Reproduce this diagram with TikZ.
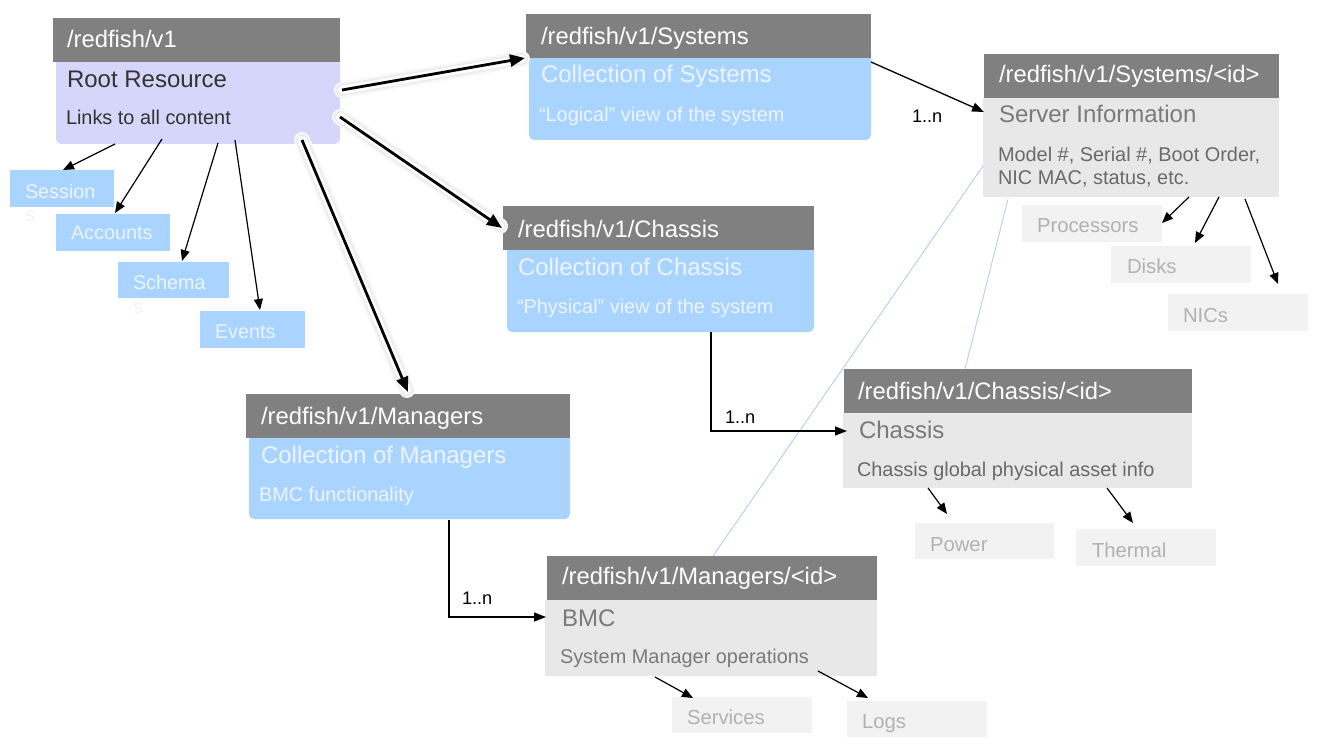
\documentclass[tikz,border=0pt]{standalone}
\usepackage{fontspec}
\setmainfont{Liberation Sans}
\usetikzlibrary{arrows.meta,calc}
\definecolor{hdrgray}{HTML}{808080}
\definecolor{lav}{HTML}{D6D6FA}
\definecolor{lblue}{HTML}{A8D4FF}
\definecolor{bodygray}{HTML}{E8E8E8}
\definecolor{smallgray}{HTML}{F2F2F2}
\definecolor{bluetxt}{HTML}{EEF4FF}
\definecolor{graytxt}{HTML}{7A7A7A}
\definecolor{graytxtb}{HTML}{6A6A6A}
\definecolor{ghosttxt}{HTML}{B2B2B2}
\definecolor{darktxt}{HTML}{333333}
\definecolor{linkblue}{HTML}{A8CCF0}
\begin{document}
\begin{tikzpicture}[x=1pt,y=-1pt,
  boxbase/.style={anchor=north west, inner sep=0pt, outer sep=0pt, draw=none},
  hdr/.style={boxbase, fill=hdrgray, minimum height=44pt},
  lavbody/.style={boxbase, fill=lav, rounded corners=5pt},
  bluebody/.style={boxbase, fill=lblue, rounded corners=5pt},
  graybody/.style={boxbase, fill=bodygray},
  bluesmall/.style={boxbase, fill=lblue},
  graysmall/.style={boxbase, fill=smallgray},
  basetxt/.style={anchor=base west, inner sep=0pt, outer sep=0pt},
  htxt/.style={basetxt, text=white, font=\fontsize{23.8}{27}\selectfont},
  ttxt/.style={basetxt, font=\fontsize{24}{27}\selectfont},
  stxt/.style={basetxt, font=\fontsize{19.9}{24}\selectfont},
  smtxt/.style={basetxt, text=bluetxt, font=\fontsize{19.8}{24}\selectfont},
  ghtxt/.style={basetxt, text=ghosttxt, font=\fontsize{20.3}{24}\selectfont},
  nlabel/.style={basetxt, font=\fontsize{18.2}{22}\selectfont},
  thin/.style={line width=1.2pt, -{Triangle[length=11pt,width=9pt]}},
  conn/.style={line width=1.3pt, -{Triangle[length=12pt,width=9pt]}},
  thick/.style={line width=2.8pt, -{Triangle[length=15pt,width=12pt]}},
  halo1/.style={line width=16pt, black!3, line cap=round},
  halo2/.style={line width=12pt, black!7, line cap=round},
  halo3/.style={line width=8pt, white, line cap=round},
  link/.style={line width=0.8pt, linkblue}
]
\fill[white] (0,0) rectangle (1318,749);
\useasboundingbox (0,0) rectangle (1318,749);

% ---------- boxes ----------
% Root
\node[lavbody, minimum width=284pt, minimum height=94pt] (rootb) at (56,50) {};
\node[hdr, minimum width=287pt] (rooth) at (53,18) {};
\node[htxt] (rootht) at (67,48) {/redfish/v1};
\node[ttxt, text=darktxt] (roott) at (67,88) {Root Resource};
\node[stxt, text=darktxt] (roots) at (66,125) {Links to all content};

% Systems
\node[bluebody, minimum width=342pt, minimum height=94pt] (sysb) at (529,46) {};
\node[hdr, minimum width=345pt] (sysh) at (526,14) {};
\node[htxt] (sysht) at (541,45) {/redfish/v1/Systems};
\node[ttxt, text=bluetxt] (syst) at (541,83) {Collection of Systems};
\node[stxt, text=bluetxt] (syss) at (539,122) {“Logical” view of the system};

% Chassis
\node[bluebody, minimum width=307pt, minimum height=94pt] (chb) at (507,238) {};
\node[hdr, minimum width=311pt] (chh) at (503,206) {};
\node[htxt] (chht) at (518,237) {/redfish/v1/Chassis};
\node[ttxt, text=bluetxt] (cht) at (518,275) {Collection of Chassis};
\node[stxt, text=bluetxt] (chs) at (517,313) {“Physical” view of the system};

% Managers
\node[bluebody, minimum width=321pt, minimum height=93pt] (mgrb) at (249,426) {};
\node[hdr, minimum width=324pt] (mgrh) at (246,394) {};
\node[htxt] (mgrht) at (261,424) {/redfish/v1/Managers};
\node[ttxt, text=bluetxt] (mgrt) at (261,463) {Collection of Managers};
\node[stxt, text=bluetxt] (mgrs) at (259,501) {BMC functionality};

% Systems/<id>
\node[graybody, minimum width=296pt, minimum height=99pt] (sysidb) at (983,98) {};
\node[hdr, minimum width=295pt] (sysidh) at (984,54) {};
\node[htxt] (sysidht) at (999,83) {/redfish/v1/Systems/<id>};
\node[ttxt, text=graytxt] (sysidt) at (999,123) {Server Information};
\node[stxt, text=graytxtb] (sysids) at (998,161) {Model \#, Serial \#, Boot Order,};
\node[stxt, text=graytxtb] (sysids2) at (998,185) {NIC MAC, status, etc.};

% Chassis/<id>
\node[graybody, minimum width=349pt, minimum height=75pt] (chidb) at (843,413) {};
\node[hdr, minimum width=348pt] (chidh) at (844,369) {};
\node[htxt] (chidht) at (858,399) {/redfish/v1/Chassis/<id>};
\node[ttxt, text=graytxt] (chidt) at (859,438) {Chassis};
\node[stxt, text=graytxtb] (chids) at (857,476) {Chassis global physical asset info};

% Managers/<id>
\node[graybody, minimum width=332pt, minimum height=76pt] (mgridb) at (545,600) {};
\node[hdr, minimum width=330pt] (mgridh) at (547,556) {};
\node[htxt] (mgridht) at (562,584) {/redfish/v1/Managers/<id>};
\node[ttxt, text=graytxt] (mgridt) at (562,626) {BMC};
\node[stxt, text=graytxt] (mgrids) at (560,663) {System Manager operations};

% small blue boxes
\node[bluesmall, minimum width=104pt, minimum height=37pt] (sess) at (10,170) {};
\node[smtxt] (sesst) at (25,198) {Session};
\node[smtxt] (sesst2) at (25,222) {s};
\node[bluesmall, minimum width=114pt, minimum height=37pt] (acc) at (56,214) {};
\node[smtxt] (acct) at (71,240) {Accounts};
\node[bluesmall, minimum width=111pt, minimum height=36pt] (sch) at (118,262) {};
\node[smtxt] (scht) at (133,289) {Schema};
\node[smtxt] (scht2) at (133,313) {s};
\node[bluesmall, minimum width=105pt, minimum height=37pt] (ev) at (200,311) {};
\node[smtxt] (evt) at (215,338) {Events};

% small gray boxes
\node[graysmall, minimum width=140pt, minimum height=37pt] (proc) at (1022,205) {};
\node[ghtxt] (proct) at (1037,233) {Processors};
\node[graysmall, minimum width=140pt, minimum height=37pt] (disks) at (1111,246) {};
\node[ghtxt] (diskst) at (1127,273) {Disks};
\node[graysmall, minimum width=140pt, minimum height=37pt] (nics) at (1168,294) {};
\node[ghtxt] (nicst) at (1183,322) {NICs};
\node[graysmall, minimum width=139pt, minimum height=36pt] (pow) at (915,523) {};
\node[ghtxt] (powt) at (930,551) {Power};
\node[graysmall, minimum width=140pt, minimum height=37pt] (therm) at (1076,529) {};
\node[ghtxt] (thermt) at (1092,557) {Thermal};
\node[graysmall, minimum width=140pt, minimum height=36pt] (serv) at (672,697) {};
\node[ghtxt] (servt) at (687,724) {Services};
\node[graysmall, minimum width=140pt, minimum height=36pt] (logs) at (847,701) {};
\node[ghtxt] (logst) at (862,728) {Logs};

% ---------- blue link lines ----------
\draw[link] ($(sysidb.north west)+(0,68)$) -- ($(mgridh.north west)+(166,0)$);
\draw[link] ($(sysidb.south west)+(25,2)$) -- ($(chidh.north west)+(121,0)$);

% ---------- thin arrows from root ----------
\draw[thin] ($(rootb.south west)+(59,0)$) -- ($(sess.north west)+(53,0)$);
\draw[thin] ($(rootb.south west)+(106,-5)$) -- ($(acc.north west)+(59,-1)$);
\draw[thin] ($(rootb.south west)+(162,-1)$) -- ($(sch.north west)+(64,-1)$);
\draw[thin] ($(rootb.south west)+(179,-4)$) -- ($(ev.north west)+(60,-1)$);

% ---------- thick arrows with halo ----------
\foreach \hs in {halo1,halo2,halo3}{
  \draw[\hs] ($(rooth.south east)+(2,28)$) -- ($(sysh.south west)+(-4,1)$);
  \draw[\hs] ($(rooth.south east)+(0,55)$) -- ($(chh.north west)+(-3,20)$);
  \draw[\hs] ($(rootb.south west)+(246,-4)$) -- ($(mgrh.north west)+(161,-4)$);
}
\draw[thick] ($(rooth.south east)+(2,28)$) -- ($(sysh.south west)+(-1,0)$);
\draw[thick] ($(rooth.south east)+(0,55)$) -- ($(chh.north west)+(-1,22)$);
\draw[thick] ($(rootb.south west)+(246,-4)$) -- ($(mgrh.north west)+(162,-2)$);

% ---------- 1..n connectors ----------
\draw[conn] ($(sysb.north east)+(0,16)$) -- ($(sysidb.north west)+(1,14)$);
\node[nlabel] (n1) at (912,123) {1..n};
\draw[conn] ($(chb.south west)+(204,0)$) |- ($(chidb.north west)+(4,18)$);
\node[nlabel] (n2) at (725,423) {1..n};
\draw[conn] ($(mgrb.south west)+(200,1)$) |- ($(mgridb.north west)+(1,17)$);
\node[nlabel] (n3) at (462,604) {1..n};

% ---------- thin arrows to sub resources ----------
\draw[thin] ($(sysidb.south west)+(206,0)$) -- ($(proc.north east)+(0,18)$);
\draw[thin] ($(sysidb.south west)+(236,0)$) -- ($(disks.north west)+(84,-3)$);
\draw[thin] ($(sysidb.south west)+(262,2)$) -- ($(nics.north west)+(110,-10)$);
\draw[thin] ($(chidb.south west)+(85,0)$) -- ($(pow.north west)+(32,-9)$);
\draw[thin] ($(chidb.south west)+(264,0)$) -- ($(therm.north west)+(57,-6)$);
\draw[thin] ($(mgridb.south west)+(110,1)$) -- ($(serv.north west)+(21,1)$);
\draw[thin] ($(mgridb.south west)+(273,-5)$) -- ($(logs.north west)+(21,-3)$);
\end{tikzpicture}
\end{document}
